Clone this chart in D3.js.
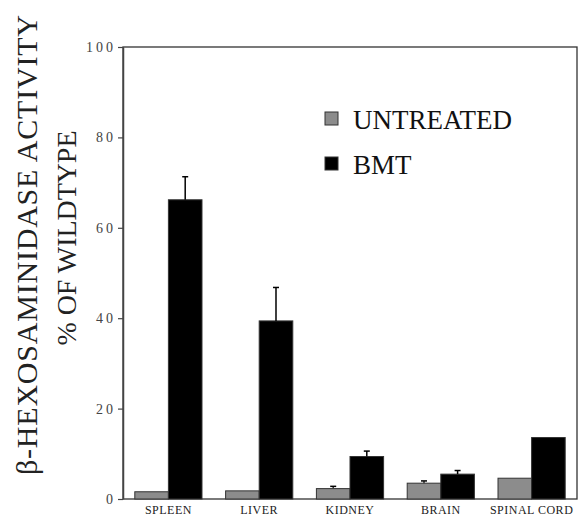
<!DOCTYPE html>
<html>
<head>
<meta charset="utf-8">
<script src="https://cdn.jsdelivr.net/npm/d3@7"></script>
<style>
  body { margin: 0; background: #fff; }
  svg { display: block; }
</style>
</head>
<body>
<svg id="chart" width="584" height="518"></svg>
<script>
(function () {
  const tissues = ["SPLEEN", "LIVER", "KIDNEY", "BRAIN", "SPINAL CORD"];
  const series = ["UNTREATED", "BMT"];
  const untreated = [1.6, 1.8, 2.3, 3.5, 4.6];
  const bmt = [66.2, 39.4, 9.4, 5.5, 13.6];
  const untreatedErr = [0, 0, 0.5, 0.5, 0];
  const bmtErr = [5.1, 7.4, 1.2, 0.8, 0];
  const yTicks = [0, 20, 40, 60, 80, 100];

  const svg = d3.select("#chart");
  const width = +svg.attr("width");
  const height = +svg.attr("height");
  const margin = { top: 47, right: 7, bottom: 19, left: 123 };
  const serif = "'Liberation Serif', 'DejaVu Serif', serif";

  const x = d3
    .scaleBand()
    .domain(tissues)
    .range([margin.left, width - margin.right])
    .paddingInner(0.26)
    .paddingOuter(0.13);

  const xs = d3.scaleBand().domain(series).range([0, x.bandwidth()]);

  const y = d3
    .scaleLinear()
    .domain([0, 100])
    .range([height - margin.bottom, margin.top]);

  const color = d3.scaleOrdinal().domain(series).range(["#8c8c8c", "#000"]);

  const rows = tissues.map((t, i) => ({
    tissue: t,
    bars: [
      { key: "UNTREATED", value: untreated[i], err: untreatedErr[i] },
      { key: "BMT", value: bmt[i], err: bmtErr[i] },
    ],
  }));

  // frame
  svg
    .append("rect")
    .attr("x", margin.left)
    .attr("y", margin.top)
    .attr("width", width - margin.left - margin.right)
    .attr("height", height - margin.top - margin.bottom)
    .attr("fill", "none")
    .attr("stroke", "#333")
    .style("stroke-width", "1.3px");

  const groups = svg
    .selectAll(null)
    .data(rows)
    .enter()
    .append("g")
    .attr("transform", (d) => `translate(${x(d.tissue)},0)`);

  const bar = groups
    .selectAll(null)
    .data((d) => d.bars)
    .enter()
    .append("g");

  bar
    .append("rect")
    .attr("x", (d) => xs(d.key))
    .attr("y", (d) => y(d.value))
    .attr("width", xs.bandwidth())
    .attr("height", (d) => y(0) - y(d.value))
    .attr("fill", (d) => color(d.key))
    .attr("stroke", "#333")
    .style("stroke-width", "1px");

  const errs = bar.filter((d) => d.err > 0);
  errs
    .append("line")
    .attr("x1", (d) => xs(d.key) + xs.bandwidth() / 2)
    .attr("x2", (d) => xs(d.key) + xs.bandwidth() / 2)
    .attr("y1", (d) => y(d.value))
    .attr("y2", (d) => y(d.value + d.err))
    .attr("stroke", (d) => (d.key === "BMT" ? "#000" : "#333"))
    .style("stroke-width", "1.5px");
  errs
    .append("line")
    .attr("x1", (d) => xs(d.key) + xs.bandwidth() / 2 - 3)
    .attr("x2", (d) => xs(d.key) + xs.bandwidth() / 2 + 3)
    .attr("y1", (d) => y(d.value + d.err))
    .attr("y2", (d) => y(d.value + d.err))
    .attr("stroke", "#000")
    .style("stroke-width", "1.5px");

  // y axis
  const yAxis = svg
    .append("g")
    .attr("transform", `translate(${margin.left},0)`)
    .call(d3.axisLeft(y).tickValues(yTicks).tickSize(5).tickSizeOuter(0).tickPadding(2));
  yAxis.select(".domain").attr("stroke", "#444").style("stroke-width", "1.5px");
  yAxis.selectAll(".tick line").attr("stroke", "#444").style("stroke-width", "1.2px");
  yAxis
    .selectAll(".tick text")
    .attr("fill", "#444")
    .style("font-family", serif)
    .style("font-size", "14px")
    .style("letter-spacing", "3px");

  // x labels
  svg
    .selectAll(null)
    .data(tissues)
    .enter()
    .append("text")
    .text((d) => d)
    .attr("x", (d) => x(d) + x.bandwidth() / 2)
    .attr("y", height - 4)
    .attr("text-anchor", "middle")
    .attr("fill", "#222")
    .style("font-family", serif)
    .style("font-size", "12px")
    .style("letter-spacing", "0.5px");

  // y title
  const title = svg
    .append("g")
    .attr("fill", "#222")
    .style("font-family", serif);
  title
    .append("text")
    .attr("transform", "translate(37,245) rotate(-90)")
    .attr("text-anchor", "middle")
    .attr("textLength", 460)
    .style("font-size", "30px")
    .text("\u03b2-HEXOSAMINIDASE  ACTIVITY");
  title
    .append("text")
    .attr("transform", "translate(76,238) rotate(-90)")
    .attr("text-anchor", "middle")
    .attr("textLength", 215)
    .style("font-size", "28px")
    .text("% OF WILDTYPE");

  // legend
  const legend = svg
    .append("g")
    .attr("transform", "translate(325,112)")
    .selectAll(null)
    .data(series)
    .enter()
    .append("g")
    .attr("transform", (d, i) => `translate(0,${i * 45})`);
  legend
    .append("rect")
    .attr("width", 13)
    .attr("height", 13)
    .attr("fill", (d) => color(d))
    .attr("stroke", "#333")
    .style("stroke-width", "1px");
  legend
    .append("text")
    .text((d) => d)
    .attr("x", 28)
    .attr("y", 17)
    .attr("fill", "#111")
    .style("font-family", serif)
    .style("font-size", "27px");
})();
</script>
</body>
</html>
